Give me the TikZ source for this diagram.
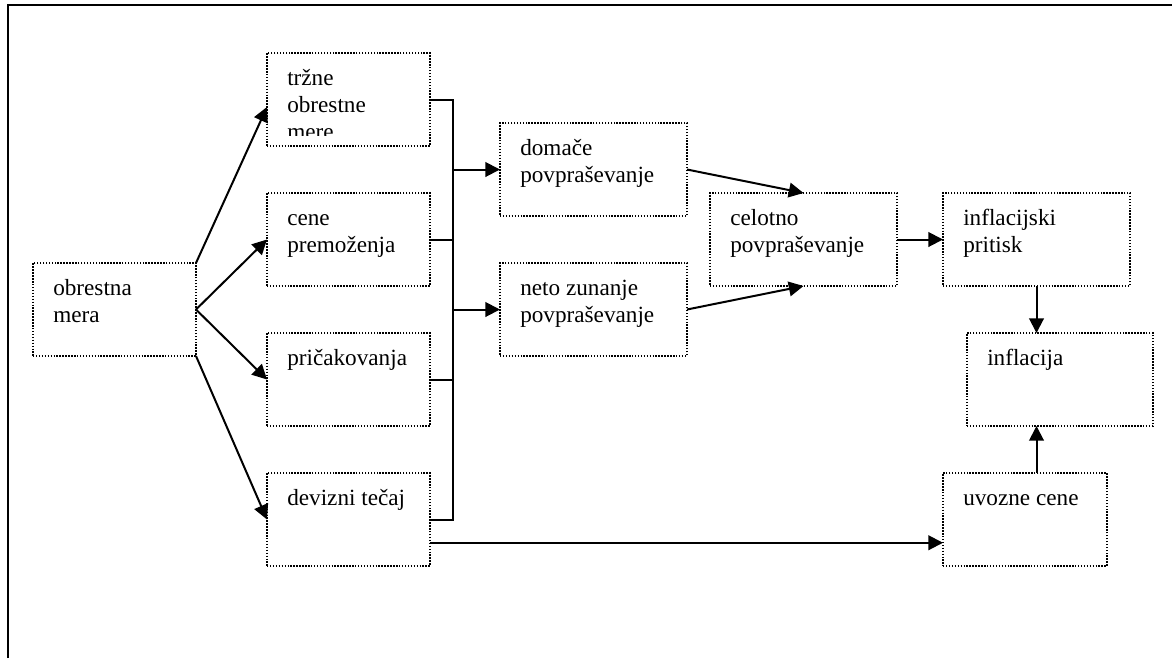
\documentclass[tikz,border=0pt]{standalone}
\usepackage{fontspec}
\setmainfont{Liberation Serif}
\usetikzlibrary{arrows.meta,calc}
\newcommand\lblfont{\fontsize{17.4}{20.25}\selectfont}
\newcommand\mkbox[5]{\node[box, minimum width=#4*0.75pt, minimum height=#5*0.75pt] (#1) at (#2,#3) {};}
\newcommand\mktxt[2]{\node[txt] (#1-t) at ($(#1.north west)+(20,32)$) {\begin{tabular}[t]{@{}l@{}}#2\end{tabular}};}
\begin{document}
\begin{tikzpicture}[x=0.75pt,y=-0.75pt,
  box/.style={draw, line width=0.9pt, dash pattern=on 1.1pt off 1.1pt, inner sep=0pt, outer sep=0pt, anchor=north west},
  txt/.style={anchor=base west, inner sep=0pt, font=\lblfont},
  conn/.style={line width=1.5pt},
  arr/.style={conn, -{Triangle[length=11pt,width=11pt]}},
]
\useasboundingbox (0,0) rectangle (1172,658);
\draw[line width=1.5pt] (8,658) -- (8,5) -- (1172,5);

% boxes
\mkbox{om}{33}{263}{163}{93}
\mkbox{trz}{267}{53}{163}{93}
\mkbox{cen}{267}{193}{163}{93}
\mkbox{pri}{267}{333}{163}{93}
\mkbox{dev}{267}{473}{163}{93}
\mkbox{dom}{500}{123}{187}{93}
\mkbox{net}{500}{263}{187}{93}
\mkbox{cel}{710}{193}{187}{93}
\mkbox{inp}{943}{193}{187}{93}
\mkbox{inf}{967}{333}{186}{93}
\mkbox{uvo}{943}{473}{164}{93}

% texts
\mktxt{om}{obrestna\\mera}
\begin{scope}
  \clip (267,53) rectangle (430,135.5);
  \mktxt{trz}{tržne\\obrestne\\mere}
\end{scope}
\mktxt{cen}{cene\\premoženja}
\mktxt{pri}{pričakovanja}
\mktxt{dev}{devizni tečaj}
\mktxt{dom}{domače\\povpraševanje}
\mktxt{net}{neto zunanje\\povpraševanje}
\mktxt{cel}{celotno\\povpraševanje}
\mktxt{inp}{inflacijski\\pritisk}
\mktxt{inf}{inflacija}
\mktxt{uvo}{uvozne cene}

% fan from obrestna mera
\draw[arr] (om.north east) -- ($(trz.north west)!0.58!(trz.south west)$);
\draw[arr] (om.east) -- (cen.west);
\draw[arr] (om.east) -- (pri.west);
\draw[arr] (om.south east) -- (dev.west);

% bus
\coordinate (bus) at (453,0);
\draw[conn] (trz.east) -- (trz.east -| bus) -- (dev.east -| bus) -- (dev.east);
\draw[conn] (cen.east) -- (cen.east -| bus);
\draw[conn] (pri.east) -- (pri.east -| bus);
\draw[arr] (dom.west -| bus) -- (dom.west);
\draw[arr] (net.west -| bus) -- (net.west);

% demand
\draw[arr] (dom.east) -- (cel.north);
\draw[arr] (net.east) -- (cel.south);
\draw[arr] (cel.east) -- (inp.west);
\draw[arr] (inp.south) -- (inp.south |- inf.north);
\draw[arr] (uvo.north -| inp.south) -- (inf.south -| inp.south);

% exchange rate to import prices
\coordinate (dx) at ($(dev.north east)!0.75!(dev.south east)$);
\draw[arr] (dx) -- (dx -| uvo.west);
\end{tikzpicture}
\end{document}
